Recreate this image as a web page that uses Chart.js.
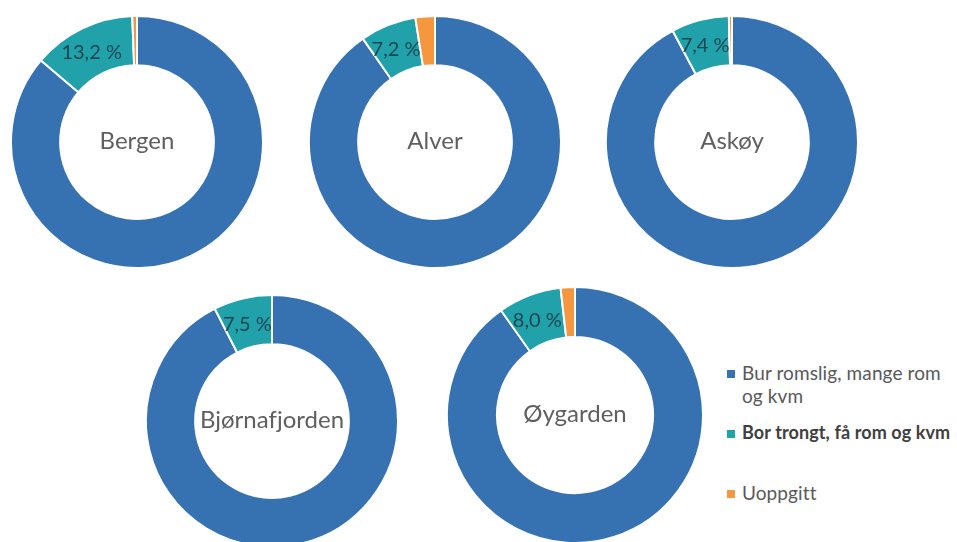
<!DOCTYPE html>
<html>
<head>
<meta charset="utf-8">
<script src="https://cdn.jsdelivr.net/npm/chart.js@4/dist/chart.umd.min.js"></script>
<style>
  html, body { margin: 0; padding: 0; background: #fff; }
  body { width: 957px; height: 542px; position: relative; overflow: hidden; font-family: Lato, "Open Sans", sans-serif; }
  .ring { position: absolute; }
  .legend { position: absolute; left: 727px; top: 361px; color: #595959; font-size: 19px; }
  .legend .item { position: absolute; left: 0; white-space: nowrap; }
  .legend .sq { position: absolute; left: 0; width: 8px; height: 8px; }
  .legend .txt { position: absolute; left: 15px; line-height: 23px; letter-spacing: 0.1px; }
</style>
</head>
<body>
<div class="legend" id="legend"></div>
<script>
var kommuner = ['Bergen', 'Alver', 'Askøy', 'Bjørnafjorden', 'Øygarden'];
var kategorier = ['Bur romslig, mange rom og kvm', 'Bor trongt, få rom og kvm', 'Uoppgitt'];
var romslig = [86.2, 90.3, 92.2, 92.5, 90.2];
var trongt = [13.2, 7.2, 7.4, 7.5, 8.0];
var uoppgitt = [0.6, 2.5, 0.4, 0, 1.8];
var farger = ['#3671b2', '#21a1aa', '#f5973f'];

// placement of each ring: centre x, centre y, outer radius
var plassering = [
  [137, 142, 126],
  [435, 142, 126],
  [732, 142, 126],
  [272, 421, 126],
  [575, 415, 128]
];

// percentage label in the "trongt" slice
var sliceLabel = {
  id: 'sliceLabel',
  afterDatasetsDraw: function (chart) {
    var arc = chart.getDatasetMeta(0).data[1];
    var value = chart.data.datasets[0].data[1];
    var pos = arc.tooltipPosition();
    var ctx = chart.ctx;
    ctx.save();
    ctx.font = '20px Lato, "Open Sans", sans-serif';
    ctx.fillStyle = 'rgba(20, 58, 68, 0.88)';
    ctx.textAlign = 'center';
    ctx.textBaseline = 'middle';
    ctx.fillText(value.toFixed(1).replace('.', ',') + ' %', pos.x - 1, pos.y + 2);
    ctx.restore();
  }
};

// municipality name in the hole
var centerName = {
  id: 'centerName',
  afterDraw: function (chart) {
    var arc = chart.getDatasetMeta(0).data[0];
    var ctx = chart.ctx;
    ctx.save();
    ctx.font = '24px Lato, "Open Sans", sans-serif';
    ctx.textRendering = 'optimizeSpeed'; // no f-j ligature
    ctx.fillStyle = '#5f5f5f';
    ctx.textAlign = 'center';
    ctx.textBaseline = 'middle';
    ctx.fillText(chart.options.plugins.title.text, arc.x, arc.y - 1);
    ctx.restore();
  }
};

kommuner.forEach(function (navn, i) {
  var p = plassering[i];
  var size = p[2] * 2 + 2;
  var canvas = document.createElement('canvas');
  canvas.className = 'ring';
  canvas.width = size;
  canvas.height = size;
  canvas.style.left = (p[0] - size / 2) + 'px';
  canvas.style.top = (p[1] - size / 2) + 'px';
  document.body.appendChild(canvas);

  new Chart(canvas.getContext('2d'), {
    type: 'doughnut',
    data: {
      labels: kategorier,
      datasets: [{
        data: [romslig[i], trongt[i], uoppgitt[i]],
        backgroundColor: farger,
        borderColor: '#ffffff',
        borderWidth: 2
      }]
    },
    options: {
      responsive: false,
      animation: false,
      cutout: '61%',
      layout: { padding: 0 },
      plugins: {
        legend: { display: false },
        tooltip: { enabled: false },
        title: { display: false, text: navn }
      }
    },
    plugins: [sliceLabel, centerName]
  });
});

// legend
var legend = document.getElementById('legend');
var rader = [
  { y: 0, lines: ['Bur romslig, mange rom', 'og kvm'], bold: false },
  { y: 60, lines: ['Bor trongt, få rom og kvm'], bold: true },
  { y: 120, lines: ['Uoppgitt'], bold: false }
];
rader.forEach(function (r, i) {
  var item = document.createElement('div');
  item.className = 'item';
  item.style.top = r.y + 'px';
  var sq = document.createElement('div');
  sq.className = 'sq';
  sq.style.background = farger[i];
  sq.style.top = '9px';
  var txt = document.createElement('div');
  txt.className = 'txt';
  txt.innerHTML = r.lines.join('<br>');
  if (r.bold) { txt.style.fontWeight = 'bold'; txt.style.color = '#404040'; txt.style.fontSize = '18px'; }
  item.appendChild(sq);
  item.appendChild(txt);
  legend.appendChild(item);
});
</script>
</body>
</html>
